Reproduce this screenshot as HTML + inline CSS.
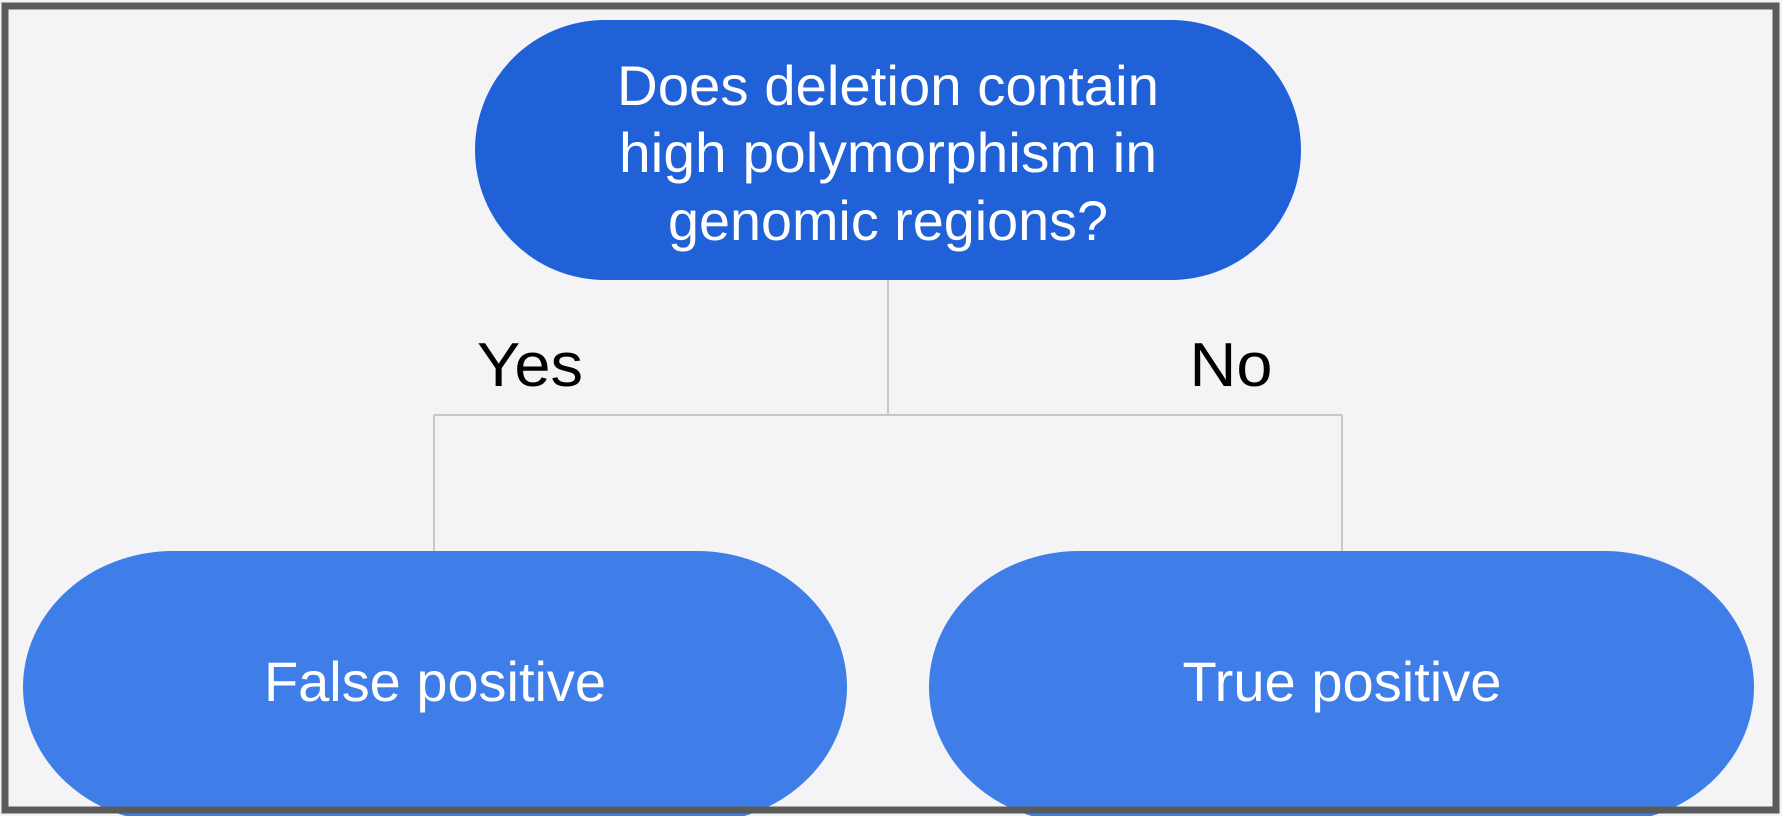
<!DOCTYPE html>
<html><head><meta charset="utf-8"><style>
html,body{margin:0;padding:0;background:#f4f3f5;}
svg{display:block;}
text{font-family:"Liberation Sans",sans-serif;}
</style></head><body>
<svg width="1782" height="816" viewBox="0 0 1782 816">
<rect x="0" y="0" width="1782" height="816" fill="#f4f3f5"/>
<g stroke="#c8c8c8" stroke-width="2" fill="none">
<line x1="888" y1="280" x2="888" y2="415"/>
<line x1="434" y1="415" x2="1342" y2="415"/>
<line x1="434" y1="415" x2="434" y2="552"/>
<line x1="1342" y1="415" x2="1342" y2="552"/>
</g>
<rect x="475" y="20" width="826" height="260" rx="130" ry="130" fill="#2061d8"/>
<g fill="#ffffff" font-size="56" text-anchor="middle">
<text x="888" y="105" textLength="542" lengthAdjust="spacingAndGlyphs">Does deletion contain</text>
<text x="888" y="172" textLength="538" lengthAdjust="spacingAndGlyphs">high polymorphism in</text>
<text x="888" y="240" textLength="440" lengthAdjust="spacingAndGlyphs">genomic regions?</text>
</g>
<text x="530" y="386" font-size="62" fill="#000" text-anchor="middle" textLength="106" lengthAdjust="spacingAndGlyphs">Yes</text>
<text x="1231" y="386" font-size="62" fill="#000" text-anchor="middle" textLength="83" lengthAdjust="spacingAndGlyphs">No</text>
<rect x="23" y="551" width="824" height="272" rx="150" ry="136" fill="#3f7ee9"/>
<rect x="929" y="551" width="825" height="272" rx="150" ry="136" fill="#3f7ee9"/>
<text x="435" y="701" font-size="56" fill="#fff" text-anchor="middle" textLength="342" lengthAdjust="spacingAndGlyphs">False positive</text>
<text x="1342" y="701" font-size="56" fill="#fff" text-anchor="middle" textLength="319" lengthAdjust="spacingAndGlyphs">True positive</text>
<rect x="5" y="6" width="1771" height="804" fill="none" stroke="#5a5a5a" stroke-width="7"/>
</svg>
</body></html>
